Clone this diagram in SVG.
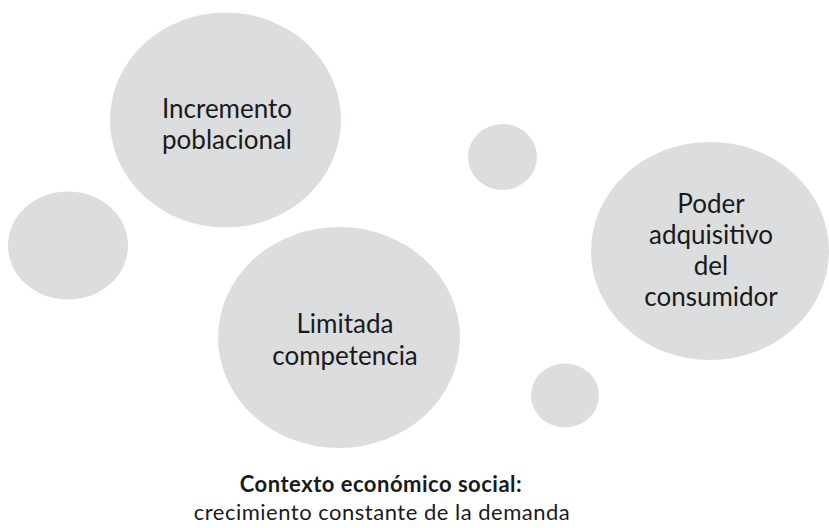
<svg xmlns="http://www.w3.org/2000/svg" width="829" height="528" viewBox="0 0 829 528">
<style>
.bub{fill:#dcdddf;}
.lbl{font-family:Lato,"Open Sans","Liberation Sans",sans-serif;font-size:26px;fill:#1a1a1a;text-anchor:middle;}
.cap{font-family:Lato,"Open Sans","Liberation Sans",sans-serif;font-size:22px;letter-spacing:0.5px;fill:#1a1a1a;text-anchor:middle;}
</style>
<rect width="829" height="528" fill="#ffffff"/>
<g id="node-incremento">
<ellipse class="bub" cx="225.5" cy="120" rx="115.5" ry="107.5"/>
<text class="lbl" x="227" y="118">Incremento</text>
<text class="lbl" x="227" y="149">poblacional</text>
</g>
<g id="node-left-small">
<ellipse class="bub" cx="68" cy="245.5" rx="60" ry="54"/>
</g>
<g id="node-top-small">
<ellipse class="bub" cx="502.5" cy="157" rx="34.5" ry="33"/>
</g>
<g id="node-poder">
<ellipse class="bub" cx="710" cy="251" rx="119" ry="109"/>
<text class="lbl" x="711" y="213">Poder</text>
<text class="lbl" x="711" y="244">adquisitivo</text>
<text class="lbl" x="711" y="275">del</text>
<text class="lbl" x="711" y="306">consumidor</text>
</g>
<g id="node-limitada">
<ellipse class="bub" cx="339" cy="337.5" rx="121" ry="110.5"/>
<text class="lbl" x="345" y="333">Limitada</text>
<text class="lbl" x="345" y="365">competencia</text>
</g>
<g id="node-bottom-small">
<ellipse class="bub" cx="565" cy="395.5" rx="34" ry="32"/>
</g>
<g id="connectors"></g>
<g id="caption">
<text class="cap" x="381" y="492" font-weight="bold" font-size="22.5">Contexto económico social:</text>
<text class="cap" x="382" y="520">crecimiento constante de la demanda</text>
</g>
</svg>
